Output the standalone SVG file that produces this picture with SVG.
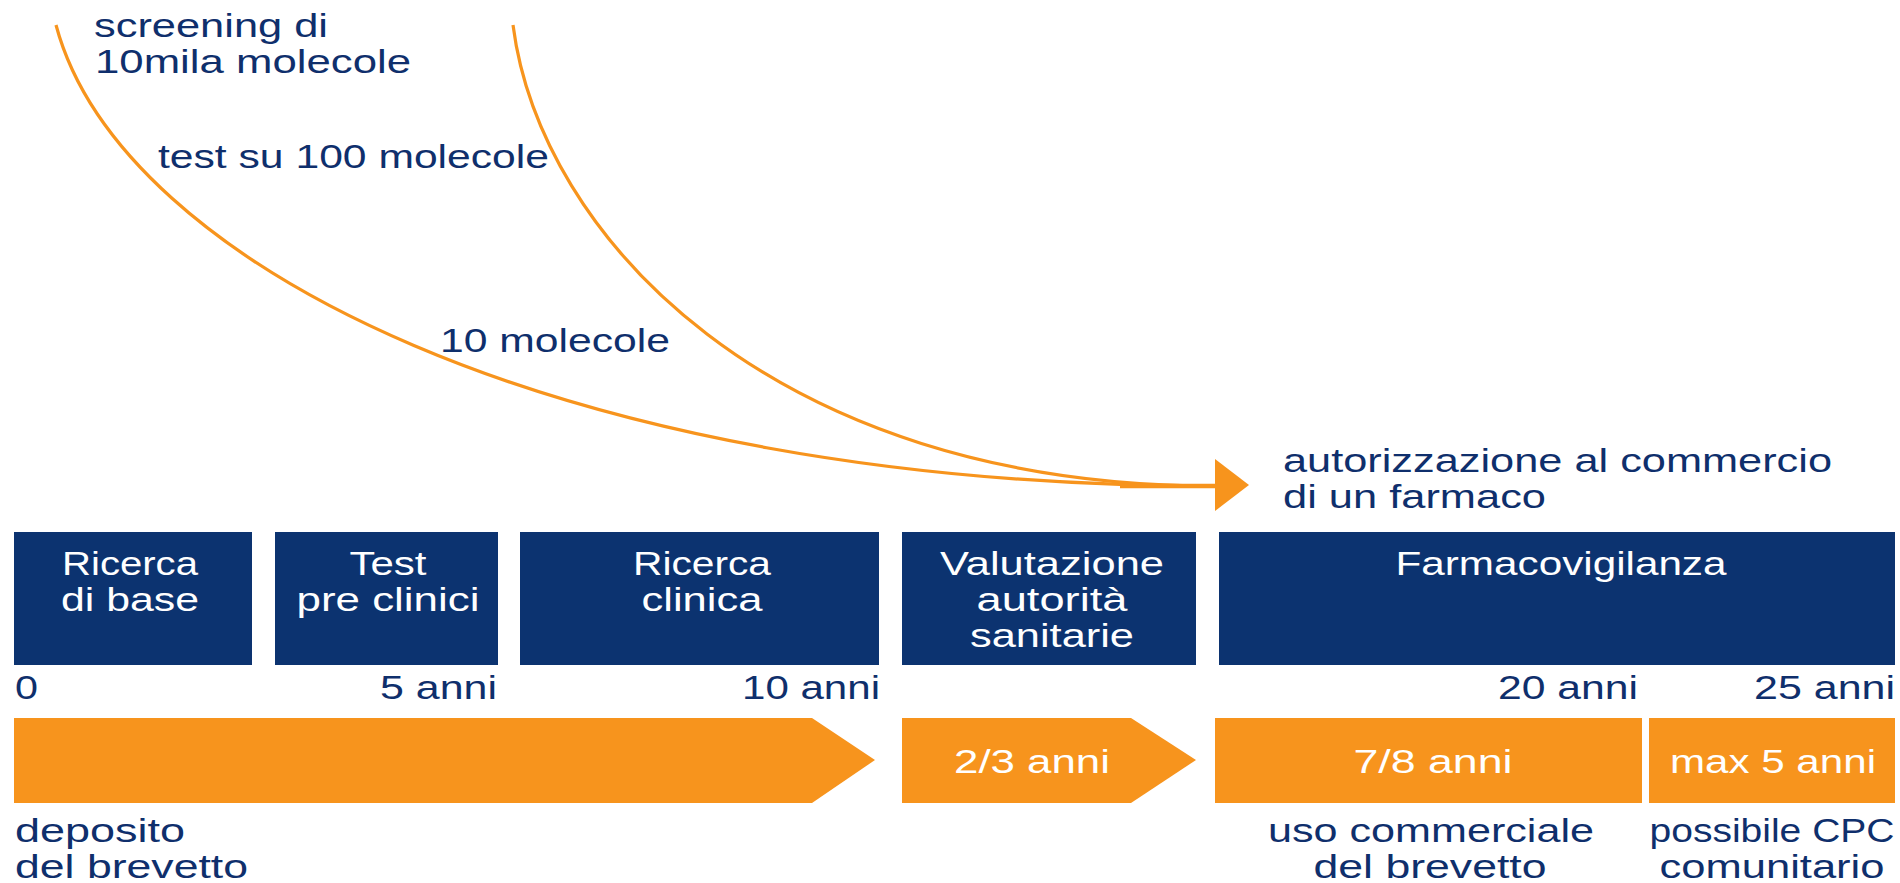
<svg xmlns="http://www.w3.org/2000/svg" width="1900" height="883" viewBox="0 0 1900 883">
<style>
  text { font-family: "Liberation Sans", Arial, sans-serif; font-size: 34px; }
  .dk { fill: #0f2f6c; }
  .wt { fill: #ffffff; }
  .box { fill: #0c3370; }
  .or { fill: #f7941d; }
  .curve { fill: none; stroke: #f7941d; stroke-width: 3.2; }
</style>
<rect x="0" y="0" width="1900" height="883" fill="#ffffff"/>

<g id="connectors">
  <path class="curve" d="M56,25 C120,265 560,486 1215,486"/>
  <path class="curve" d="M513,25 C540,235 770,486 1215,486"/>
  <line x1="1120" y1="486" x2="1216" y2="486" stroke="#f7941d" stroke-width="4.5"/>
  <polygon points="1215,459 1249,485 1215,511" fill="#f7941d"/>
</g>

<g id="label-screening">
  <text class="dk" x="94" y="37" textLength="234" lengthAdjust="spacingAndGlyphs">screening di</text>
  <text class="dk" x="95" y="73" textLength="316" lengthAdjust="spacingAndGlyphs">10mila molecole</text>
</g>
<g id="label-test">
  <text class="dk" x="158" y="168" textLength="391" lengthAdjust="spacingAndGlyphs">test su 100 molecole</text>
</g>
<g id="label-10">
  <text class="dk" x="440" y="352" textLength="230" lengthAdjust="spacingAndGlyphs">10 molecole</text>
</g>
<g id="label-autorizzazione">
  <text class="dk" x="1283" y="472" textLength="549" lengthAdjust="spacingAndGlyphs">autorizzazione al commercio</text>
  <text class="dk" x="1283" y="508" textLength="263" lengthAdjust="spacingAndGlyphs">di un farmaco</text>
</g>

<g id="box-ricerca-base">
  <rect class="box" x="14" y="532" width="238" height="133"/>
  <text class="wt" x="130" y="575" text-anchor="middle" textLength="136" lengthAdjust="spacingAndGlyphs">Ricerca</text>
  <text class="wt" x="130" y="611" text-anchor="middle" textLength="138" lengthAdjust="spacingAndGlyphs">di base</text>
</g>
<g id="box-test">
  <rect class="box" x="275" y="532" width="223" height="133"/>
  <text class="wt" x="388" y="575" text-anchor="middle" textLength="77" lengthAdjust="spacingAndGlyphs">Test</text>
  <text class="wt" x="388" y="611" text-anchor="middle" textLength="183" lengthAdjust="spacingAndGlyphs">pre clinici</text>
</g>
<g id="box-ricerca-clinica">
  <rect class="box" x="520" y="532" width="359" height="133"/>
  <text class="wt" x="702" y="575" text-anchor="middle" textLength="138" lengthAdjust="spacingAndGlyphs">Ricerca</text>
  <text class="wt" x="702" y="611" text-anchor="middle" textLength="121" lengthAdjust="spacingAndGlyphs">clinica</text>
</g>
<g id="box-valutazione">
  <rect class="box" x="902" y="532" width="294" height="133"/>
  <text class="wt" x="1052" y="575" text-anchor="middle" textLength="224" lengthAdjust="spacingAndGlyphs">Valutazione</text>
  <text class="wt" x="1052" y="611" text-anchor="middle" textLength="151" lengthAdjust="spacingAndGlyphs">autorità</text>
  <text class="wt" x="1052" y="647" text-anchor="middle" textLength="164" lengthAdjust="spacingAndGlyphs">sanitarie</text>
</g>
<g id="box-farmacovigilanza">
  <rect class="box" x="1219" y="532" width="676" height="133"/>
  <text class="wt" x="1561" y="575" text-anchor="middle" textLength="331" lengthAdjust="spacingAndGlyphs">Farmacovigilanza</text>
</g>

<g id="axis-labels">
  <text class="dk" x="15" y="699" textLength="23" lengthAdjust="spacingAndGlyphs">0</text>
  <text class="dk" x="497" y="699" text-anchor="end" textLength="117" lengthAdjust="spacingAndGlyphs">5 anni</text>
  <text class="dk" x="880" y="699" text-anchor="end" textLength="138" lengthAdjust="spacingAndGlyphs">10 anni</text>
  <text class="dk" x="1638" y="699" text-anchor="end" textLength="140" lengthAdjust="spacingAndGlyphs">20 anni</text>
  <text class="dk" x="1895" y="699" text-anchor="end" textLength="141" lengthAdjust="spacingAndGlyphs">25 anni</text>
</g>

<g id="bar-deposito">
  <polygon class="or" points="14,718 812,718 875,760 812,803 14,803"/>
  <text class="dk" x="15" y="842" textLength="170" lengthAdjust="spacingAndGlyphs">deposito</text>
  <text class="dk" x="15" y="878" textLength="233" lengthAdjust="spacingAndGlyphs">del brevetto</text>
</g>
<g id="bar-valutazione">
  <polygon class="or" points="902,718 1131,718 1196,760 1131,803 902,803"/>
  <text class="wt" x="1032" y="773" text-anchor="middle" textLength="156" lengthAdjust="spacingAndGlyphs">2/3 anni</text>
</g>
<g id="bar-uso">
  <rect class="or" x="1215" y="718" width="427" height="85"/>
  <text class="wt" x="1433" y="773" text-anchor="middle" textLength="159" lengthAdjust="spacingAndGlyphs">7/8 anni</text>
  <text class="dk" x="1431" y="842" text-anchor="middle" textLength="326" lengthAdjust="spacingAndGlyphs">uso commerciale</text>
  <text class="dk" x="1430" y="878" text-anchor="middle" textLength="233" lengthAdjust="spacingAndGlyphs">del brevetto</text>
</g>
<g id="bar-cpc">
  <rect class="or" x="1649" y="718" width="246" height="85"/>
  <text class="wt" x="1773" y="773" text-anchor="middle" textLength="206" lengthAdjust="spacingAndGlyphs">max 5 anni</text>
  <text class="dk" x="1772" y="842" text-anchor="middle" textLength="245" lengthAdjust="spacingAndGlyphs">possibile CPC</text>
  <text class="dk" x="1772" y="878" text-anchor="middle" textLength="225" lengthAdjust="spacingAndGlyphs">comunitario</text>
</g>
</svg>
